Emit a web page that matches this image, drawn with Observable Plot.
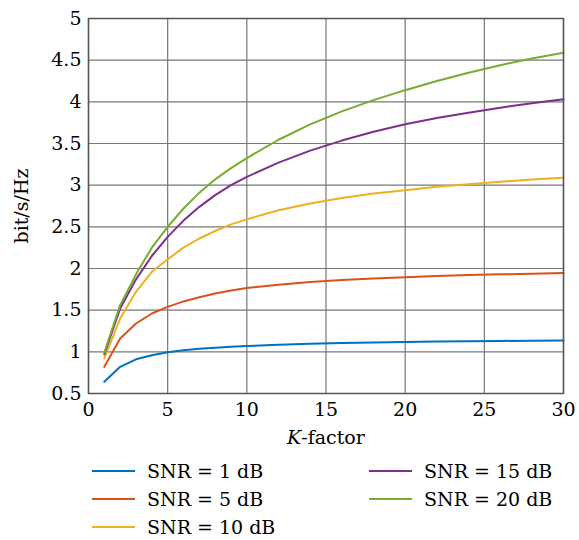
<!DOCTYPE html>
<html>
<head>
<meta charset="utf-8">
<script src="https://cdn.jsdelivr.net/npm/d3@7"></script>
<script src="https://cdn.jsdelivr.net/npm/@observablehq/plot@0.6"></script>
<style>
  html, body { margin: 0; padding: 0; background: #fff; }
  #chart { width: 579px; }
  .legend {
    display: grid;
    grid-template-rows: repeat(3, 28px);
    grid-auto-flow: column;
    grid-template-columns: 277px auto;
    padding-left: 92px;
    margin-top: 2px;
    font-family: "DejaVu Serif", serif;
    font-size: 19px;
    color: #000;
  }
  .legend .item { display: flex; align-items: center; }
  .legend .sw { width: 43px; height: 2.5px; margin-right: 12px; }
</style>
</head>
<body>
<div id="chart"></div>
<script>
// K-factor sample points
const kFactor = [1, 2, 3, 4, 5, 6, 7, 8, 9, 10, 12, 14, 16, 18, 20, 22, 24, 26, 28, 30];
// series values (bit/s/Hz)
const snr1  = [0.64, 0.82, 0.91, 0.96, 0.995, 1.02, 1.038, 1.05, 1.06, 1.07, 1.085, 1.097, 1.106, 1.113, 1.119, 1.124, 1.128, 1.131, 1.133, 1.135];
const snr5  = [0.82, 1.16, 1.34, 1.46, 1.54, 1.605, 1.655, 1.70, 1.735, 1.765, 1.805, 1.837, 1.861, 1.88, 1.896, 1.91, 1.921, 1.93, 1.938, 1.945];
const snr10 = [0.92, 1.40, 1.72, 1.96, 2.11, 2.25, 2.36, 2.45, 2.53, 2.59, 2.70, 2.78, 2.845, 2.90, 2.94, 2.98, 3.012, 3.042, 3.068, 3.09];
const snr15 = [0.97, 1.52, 1.87, 2.15, 2.38, 2.575, 2.74, 2.88, 3.00, 3.10, 3.27, 3.415, 3.535, 3.64, 3.73, 3.805, 3.87, 3.93, 3.983, 4.03];
const snr20 = [0.99, 1.56, 1.93, 2.25, 2.50, 2.72, 2.91, 3.07, 3.205, 3.325, 3.545, 3.73, 3.885, 4.02, 4.14, 4.25, 4.35, 4.44, 4.52, 4.59];

const seriesNames = ["SNR = 1 dB", "SNR = 5 dB", "SNR = 10 dB", "SNR = 15 dB", "SNR = 20 dB"];
const seriesValues = [snr1, snr5, snr10, snr15, snr20];
const seriesColors = ["#0072BD", "#D95319", "#EDB120", "#7E2F8E", "#77AC30"];

const xTicks = [0, 5, 10, 15, 20, 25, 30];
const yTicks = [0.5, 1, 1.5, 2, 2.5, 3, 3.5, 4, 4.5, 5];

const rows = [];
seriesNames.forEach((name, i) => {
  kFactor.forEach((k, j) => rows.push({series: name, k, v: seriesValues[i][j]}));
});

const font = '"DejaVu Serif", serif';

const chart = Plot.plot({
  width: 579,
  height: 455,
  marginLeft: 88,
  marginRight: 16,
  marginTop: 18,
  marginBottom: 62,
  style: {fontFamily: font, fontSize: "19px", color: "#000", background: "#fff"},
  x: {domain: [0, 30], ticks: xTicks, tickSize: 0, tickPadding: 9, label: "K-factor", labelArrow: "none", labelAnchor: "center", labelOffset: 50, tickFormat: d => String(d)},
  y: {domain: [0.5, 5], ticks: yTicks, tickSize: 0, tickPadding: 7, label: "bit/s/Hz", labelArrow: "none", labelAnchor: "center", labelOffset: 74, tickFormat: d => String(d)},
  color: {domain: seriesNames, range: seriesColors},
  marks: [
    Plot.gridX(xTicks, {stroke: "#777", strokeOpacity: 1, strokeWidth: 1.2}),
    Plot.gridY(yTicks, {stroke: "#777", strokeOpacity: 1, strokeWidth: 1.2}),
    Plot.lineY(rows, {x: "k", y: "v", z: "series", stroke: "series", strokeWidth: 2, curve: "linear"}),
    Plot.frame({stroke: "#555", strokeWidth: 1.5})
  ]
});
document.getElementById("chart").appendChild(chart);

// strip any arrow and italicise K in x-axis label
d3.select(chart).selectAll('g[aria-label="y-axis label"] text').each(function() {
  d3.select(this).text("bit/s/Hz");
});
d3.select(chart).selectAll('g[aria-label="x-axis label"] text').each(function() {
  const t = d3.select(this);
  t.text(null);
  t.append("tspan").attr("font-style", "italic").text("K");
  t.append("tspan").text("-factor");
});

// legend
const legend = d3.select("#chart").append("div").attr("class", "legend");
seriesNames.forEach((name, i) => {
  const it = legend.append("div").attr("class", "item");
  it.append("div").attr("class", "sw").style("background", seriesColors[i]);
  it.append("span").text(name);
});
</script>
</body>
</html>
